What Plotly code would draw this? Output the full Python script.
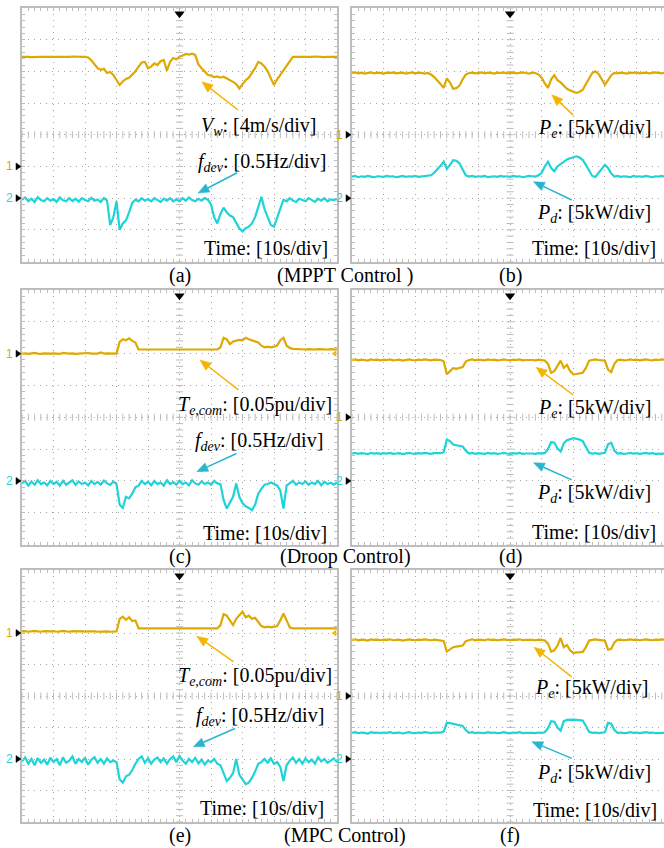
import math
import plotly.graph_objects as go

# ---------------- data (values in scope divisions) ----------------
T = [round(i * 0.1, 1) for i in range(101)]  # time, divisions (10 s/div)

vw_a = [2.46, 2.47, 2.46, 2.45, 2.46, 2.47, 2.46, 2.46, 2.45, 2.46,
        2.46, 2.47, 2.46, 2.46, 2.45, 2.46, 2.47, 2.46, 2.46, 2.46,
        2.46, 2.44, 2.35, 2.22, 2.10, 2.05, 2.08, 1.95, 1.98, 1.89,
        1.75, 1.57, 1.68, 1.76, 1.80, 1.89, 2.00, 2.15, 2.28, 2.30,
        2.10, 2.15, 2.25, 2.20, 2.32, 2.36, 2.02, 2.30, 2.42, 2.38,
        2.46, 2.50, 2.55, 2.53, 2.56, 2.52, 2.22, 2.10, 2.00, 1.89,
        1.86, 1.82, 1.84, 1.80, 1.83, 1.78, 1.74, 1.67, 1.60, 1.46,
        1.60, 1.72, 1.80, 1.95, 2.10, 2.30, 2.25, 2.15, 2.00, 1.78,
        1.57, 1.75, 1.90, 2.05, 2.20, 2.35, 2.46, 2.46, 2.47, 2.46,
        2.46, 2.45, 2.46, 2.47, 2.46, 2.46, 2.45, 2.46, 2.47, 2.46, 2.46]
fdev_a = [-2.05, -1.98, -2.10, -2.02, -2.12, -1.97, -2.06, -2.10, -2.00, -2.08,
          -2.03, -2.12, -1.98, -2.07, -2.10, -2.00, -2.09, -2.02, -2.11, -2.00,
          -2.06, -2.10, -1.99, -2.08, -2.04, -2.12, -2.00, -2.08, -2.85, -2.60,
          -2.10, -3.00, -2.80, -2.70, -2.45, -2.15, -2.05, -2.10, -2.00, -2.08,
          -2.03, -2.10, -2.00, -2.07, -2.12, -2.02, -2.08, -2.00, -2.10, -2.04,
          -2.10, -2.00, -2.08, -1.98, -2.06, -2.10, -2.02, -2.08, -2.00, -2.05,
          -2.20, -2.60, -2.80, -2.50, -2.30, -2.45, -2.55, -2.60, -2.80, -2.95,
          -3.05, -2.95, -2.90, -2.80, -2.60, -2.30, -1.96, -2.35, -2.60, -2.85,
          -2.90, -2.60, -2.30, -2.05, -2.10, -2.00, -2.08, -2.12, -2.02, -2.06,
          -2.10, -2.00, -2.07, -2.12, -2.02, -2.08, -2.00, -2.10, -2.04, -2.06, -2.02]
pe_b = [1.95, 1.97, 1.94, 1.96, 1.93, 1.95, 1.97, 1.94, 1.96, 1.95,
        1.93, 1.96, 1.95, 1.97, 1.94, 1.95, 1.96, 1.93, 1.95, 1.97,
        1.94, 1.96, 1.95, 1.93, 1.95, 1.90, 1.82, 1.72, 1.60, 1.48,
        1.78, 1.65, 1.45, 1.47, 1.55, 1.75, 1.90, 1.95, 1.96, 1.94,
        1.95, 1.97, 1.94, 1.96, 1.95, 1.93, 1.96, 1.95, 1.97, 1.94,
        1.95, 1.96, 1.94, 1.95, 1.97, 1.95, 1.93, 1.96, 1.95, 1.90,
        1.80, 1.62, 1.48, 1.75, 1.88, 1.72, 1.65, 1.55, 1.45, 1.40,
        1.35, 1.32, 1.36, 1.42, 1.60, 1.80, 1.95, 2.00, 1.92, 1.75,
        1.58, 1.72, 1.88, 1.95, 1.94, 1.96, 1.95, 1.93, 1.96, 1.95,
        1.97, 1.94, 1.95, 1.96, 1.94, 1.95, 1.97, 1.95, 1.94, 1.96, 1.95]
pd_b = [-1.32, -1.30, -1.34, -1.31, -1.33, -1.30, -1.32, -1.34, -1.31, -1.32,
        -1.33, -1.30, -1.32, -1.31, -1.34, -1.32, -1.30, -1.33, -1.31, -1.32,
        -1.30, -1.33, -1.32, -1.31, -1.30, -1.28, -1.20, -1.10, -0.98, -0.85,
        -1.08, -0.95, -0.80, -0.82, -0.90, -1.10, -1.28, -1.32, -1.30, -1.33,
        -1.31, -1.32, -1.30, -1.34, -1.32, -1.31, -1.33, -1.30, -1.32, -1.31,
        -1.33, -1.30, -1.32, -1.31, -1.34, -1.32, -1.30, -1.31, -1.32, -1.28,
        -1.20, -1.00, -0.85, -1.05, -1.15, -1.00, -0.92, -0.85, -0.78, -0.74,
        -0.70, -0.68, -0.72, -0.80, -0.95, -1.15, -1.30, -1.33, -1.20, -1.05,
        -0.95, -1.05, -1.22, -1.32, -1.30, -1.33, -1.31, -1.32, -1.34, -1.30,
        -1.32, -1.31, -1.33, -1.30, -1.32, -1.34, -1.31, -1.32, -1.30, -1.33, -1.32]
te_c = [2.00, 2.01, 1.99, 2.00, 2.02, 2.00, 1.99, 2.01, 2.00, 2.00,
        2.01, 2.00, 1.99, 2.02, 2.00, 2.00, 2.01, 1.99, 2.00, 2.01,
        2.00, 2.02, 2.00, 1.99, 2.00, 2.04, 2.00, 2.01, 2.00, 1.99,
        2.00, 2.37, 2.45, 2.42, 2.48, 2.40, 2.35, 2.13, 2.13, 2.13,
        2.13, 2.13, 2.13, 2.13, 2.13, 2.13, 2.13, 2.13, 2.13, 2.13,
        2.13, 2.13, 2.13, 2.13, 2.13, 2.13, 2.13, 2.13, 2.13, 2.13,
        2.13, 2.13, 2.13, 2.20, 2.50, 2.45, 2.30, 2.38, 2.40, 2.43,
        2.42, 2.50, 2.45, 2.42, 2.38, 2.35, 2.25, 2.20, 2.22, 2.20,
        2.22, 2.25, 2.42, 2.50, 2.25, 2.18, 2.15, 2.14, 2.13, 2.14,
        2.13, 2.14, 2.13, 2.13, 2.14, 2.13, 2.12, 2.13, 2.14, 2.13, 2.13]
fdev_c = [-2.08, -2.00, -2.15, -2.02, -2.12, -1.98, -2.10, -2.05, -2.14, -2.00,
          -2.10, -2.03, -2.15, -2.00, -2.12, -2.05, -1.98, -2.13, -2.02, -2.10,
          -2.05, -2.14, -2.00, -2.10, -2.03, -2.12, -1.99, -2.08, -2.13, -2.02,
          -2.10, -2.75, -2.85, -2.50, -2.55, -2.40, -2.20, -2.15, -2.00, -2.10,
          -2.03, -2.14, -2.00, -2.10, -2.05, -2.15, -1.98, -2.10, -2.04, -2.12,
          -2.00, -2.10, -2.05, -2.14, -1.98, -2.08, -2.12, -2.02, -2.10, -2.05,
          -2.12, -2.00, -2.08, -2.10, -2.60, -2.87, -2.70, -2.50, -2.08, -2.50,
          -2.70, -2.80, -2.85, -2.92, -2.75, -2.40, -2.25, -2.12, -2.10, -2.05,
          -2.10, -2.15, -2.30, -2.87, -2.15, -2.08, -2.00, -2.12, -2.05, -2.10,
          -2.02, -2.12, -2.05, -2.10, -2.00, -2.14, -2.03, -2.10, -2.06, -2.12, -2.04]
pe_d = [1.80, 1.82, 1.79, 1.81, 1.80, 1.78, 1.82, 1.80, 1.81, 1.79,
        1.81, 1.80, 1.82, 1.79, 1.80, 1.81, 1.78, 1.80, 1.82, 1.80,
        1.79, 1.81, 1.80, 1.82, 1.80, 1.79, 1.81, 1.80, 1.80, 1.76,
        1.35, 1.45, 1.54, 1.52, 1.56, 1.58, 1.75, 1.80, 1.82, 1.79,
        1.81, 1.80, 1.79, 1.82, 1.80, 1.81, 1.79, 1.80, 1.82, 1.80,
        1.79, 1.81, 1.80, 1.82, 1.79, 1.80, 1.81, 1.80, 1.79, 1.81,
        1.80, 1.78, 1.68, 1.40, 1.45, 1.60, 1.78, 1.55, 1.65, 1.45,
        1.35, 1.36, 1.37, 1.40, 1.55, 1.78, 1.80, 1.82, 1.80, 1.79,
        1.78, 1.50, 1.42, 1.68, 1.80, 1.81, 1.79, 1.80, 1.82, 1.80,
        1.81, 1.79, 1.80, 1.82, 1.80, 1.79, 1.81, 1.80, 1.82, 1.80, 1.80]
pd_d = [-1.14, -1.12, -1.15, -1.13, -1.14, -1.16, -1.12, -1.14, -1.13, -1.15,
        -1.13, -1.14, -1.12, -1.15, -1.14, -1.13, -1.16, -1.14, -1.12, -1.14,
        -1.15, -1.13, -1.14, -1.12, -1.14, -1.15, -1.13, -1.14, -1.13, -1.10,
        -0.70, -0.75, -0.86, -0.88, -0.90, -0.92, -1.05, -1.14, -1.12, -1.15,
        -1.13, -1.14, -1.15, -1.12, -1.14, -1.13, -1.15, -1.14, -1.12, -1.14,
        -1.15, -1.13, -1.14, -1.12, -1.15, -1.14, -1.13, -1.14, -1.15, -1.13,
        -1.14, -1.12, -1.00, -0.78, -0.80, -0.98, -1.08, -0.82, -0.72, -0.68,
        -0.66, -0.68, -0.70, -0.75, -0.95, -1.12, -1.14, -1.13, -1.15, -1.14,
        -1.12, -0.85, -0.80, -1.05, -1.14, -1.13, -1.15, -1.14, -1.12, -1.14,
        -1.13, -1.15, -1.14, -1.12, -1.14, -1.13, -1.15, -1.14, -1.13, -1.14, -1.14]
te_e = [2.05, 2.06, 2.04, 2.05, 2.07, 2.05, 2.04, 2.06, 2.05, 2.05,
        2.06, 2.04, 2.05, 2.07, 2.05, 2.04, 2.06, 2.05, 2.05, 2.06,
        2.04, 2.05, 2.06, 2.05, 2.04, 2.05, 2.06, 2.05, 2.04, 2.05,
        2.05, 2.45, 2.52, 2.42, 2.50, 2.38, 2.40, 2.15, 2.15, 2.15,
        2.15, 2.15, 2.15, 2.15, 2.15, 2.15, 2.15, 2.15, 2.15, 2.15,
        2.15, 2.15, 2.15, 2.15, 2.15, 2.15, 2.15, 2.15, 2.15, 2.15,
        2.15, 2.15, 2.15, 2.25, 2.60, 2.55, 2.38, 2.25, 2.45, 2.55,
        2.68, 2.50, 2.55, 2.45, 2.48, 2.35, 2.22, 2.18, 2.20, 2.18,
        2.20, 2.22, 2.40, 2.62, 2.40, 2.18, 2.15, 2.16, 2.15, 2.15,
        2.15, 2.16, 2.15, 2.15, 2.14, 2.15, 2.16, 2.15, 2.15, 2.15, 2.15]
fdev_e = [-2.07, -1.95, -2.15, -2.00, -2.20, -1.97, -2.12, -2.02, -2.18, -1.96,
          -2.10, -2.00, -2.20, -1.95, -2.12, -2.05, -1.92, -2.15, -2.00, -2.10,
          -1.96, -2.18, -2.02, -1.94, -2.12, -2.00, -2.15, -1.98, -2.10, -2.05,
          -2.10, -2.65, -2.75, -2.55, -2.50, -2.35, -2.15, -2.00, -1.92, -2.12,
          -1.98, -2.15, -2.02, -1.95, -2.10, -1.98, -2.15, -2.00, -1.92, -2.10,
          -1.90, -2.05, -2.15, -2.00, -2.10, -1.96, -2.14, -2.02, -2.18, -2.05,
          -2.10, -2.00, -2.15, -2.20, -2.45, -2.70, -2.60, -2.45, -2.00, -2.50,
          -2.65, -2.80, -2.75, -2.60, -2.40, -2.15, -2.10, -2.00, -2.12, -1.98,
          -2.15, -2.10, -2.25, -2.70, -2.20, -2.05, -1.95, -2.12, -2.00, -2.15,
          -1.98, -2.10, -2.02, -2.15, -1.95, -2.08, -2.00, -2.12, -2.05, -1.98, -2.10]
pe_f = [1.78, 1.80, 1.77, 1.79, 1.78, 1.76, 1.80, 1.78, 1.79, 1.77,
        1.79, 1.78, 1.80, 1.77, 1.78, 1.79, 1.76, 1.78, 1.80, 1.78,
        1.77, 1.79, 1.78, 1.80, 1.78, 1.77, 1.79, 1.78, 1.78, 1.75,
        1.41, 1.48, 1.55, 1.57, 1.58, 1.60, 1.74, 1.78, 1.80, 1.77,
        1.79, 1.78, 1.77, 1.80, 1.78, 1.79, 1.77, 1.78, 1.80, 1.78,
        1.77, 1.79, 1.78, 1.80, 1.77, 1.78, 1.79, 1.78, 1.77, 1.79,
        1.78, 1.76, 1.66, 1.41, 1.45, 1.60, 1.84, 1.55, 1.62, 1.45,
        1.37, 1.38, 1.38, 1.40, 1.55, 1.76, 1.78, 1.80, 1.78, 1.77,
        1.76, 1.47, 1.50, 1.70, 1.78, 1.79, 1.77, 1.78, 1.80, 1.78,
        1.79, 1.77, 1.78, 1.80, 1.78, 1.77, 1.79, 1.78, 1.80, 1.78, 1.78]
pd_f = [-1.17, -1.15, -1.18, -1.16, -1.17, -1.19, -1.15, -1.17, -1.16, -1.18,
        -1.16, -1.17, -1.15, -1.18, -1.17, -1.16, -1.19, -1.17, -1.15, -1.17,
        -1.18, -1.16, -1.17, -1.15, -1.17, -1.18, -1.16, -1.17, -1.16, -1.13,
        -0.85, -0.86, -0.88, -0.90, -0.93, -0.95, -1.08, -1.17, -1.15, -1.18,
        -1.16, -1.17, -1.18, -1.15, -1.17, -1.16, -1.18, -1.17, -1.15, -1.17,
        -1.18, -1.16, -1.17, -1.15, -1.18, -1.17, -1.16, -1.17, -1.18, -1.16,
        -1.17, -1.15, -1.02, -0.80, -0.82, -1.00, -1.10, -0.80, -0.76, -0.75,
        -0.75, -0.76, -0.77, -0.78, -0.95, -1.14, -1.17, -1.16, -1.18, -1.17,
        -1.15, -0.85, -0.88, -1.08, -1.17, -1.16, -1.18, -1.17, -1.15, -1.17,
        -1.16, -1.18, -1.17, -1.15, -1.17, -1.16, -1.18, -1.17, -1.16, -1.17, -1.17]

panel_letters = ["(a)", "(b)", "(c)", "(d)", "(e)", "(f)"]
row_titles = ["(MPPT Control )", "(Droop Control)", "(MPC Control)"]
label_vw = "<i>V</i><sub><i>w</i></sub>: [4m/s/div]"
label_fdev = "<i>f</i><sub><i>dev</i></sub>: [0.5Hz/div]"
label_te = "<i>T</i><sub><i>e,com</i></sub>: [0.05pu/div]"
label_pe = "<i>P</i><sub><i>e</i></sub>: [5kW/div]"
label_pd = "<i>P</i><sub><i>d</i></sub>: [5kW/div]"
label_time = "Time: [10s/div]"

# ---------------- styling ----------------
W, H = 664, 848
GOLD = "#DEA900"
CYAN = "#1FD3D8"
ARROW_GOLD = "#F4B400"
ARROW_CYAN = "#27B6CE"
BORDER = "#BDBDBD"
GRID = "#A4A4A4"
CROSS = "#BBBBBB"
FONT = "Liberation Serif"
FS = 20

panels = [
    dict(box=(22, 337, 8, 261.5), xr=10, s1=vw_a, s2=fdev_a, ch=(-1, -2), full=True,
         l1=label_vw, t1=(7.51, 0.25), a1=((6.86, 0.78), (5.71, 1.67)),
         l2=label_fdev, t2=(7.63, -0.89), a2=((6.83, -1.20), (5.59, -1.84)), tt=(7.73, -3.57)),
    dict(box=(352, 664, 8, 261.5), xr=9.87, s1=pe_b, s2=pd_b, ch=(0, -2), full=False,
         l1=label_pe, t1=(7.66, 0.21), a1=((7.00, 0.62), (6.32, 1.26)),
         l2=label_pd, t2=(7.66, -2.47), a2=((6.95, -2.06), (5.74, -1.48)), tt=(7.66, -3.57)),
    dict(box=(22, 337, 290, 544.5), xr=10, s1=te_c, s2=fdev_c, ch=(2, -2), full=True,
         l1=label_te, t1=(7.40, 0.38), a1=((6.87, 0.86), (5.65, 1.80)),
         l2=label_fdev, t2=(7.52, -0.77), a2=((6.81, -1.14), (5.55, -1.71)), tt=(7.71, -3.65)),
    dict(box=(352, 664, 290, 544.5), xr=9.87, s1=pe_d, s2=pd_d, ch=(0, -2), full=False,
         l1=label_pe, t1=(7.66, 0.28), a1=((7.00, 0.70), (5.82, 1.57)),
         l2=label_pd, t2=(7.66, -2.39), a2=((6.95, -1.97), (5.74, -1.43)), tt=(7.66, -3.60)),
    dict(box=(22, 337, 570, 822), xr=10, s1=te_e, s2=fdev_e, ch=(2, -2), full=True,
         l1=label_te, t1=(7.40, 0.61), a1=((6.71, 1.09), (5.55, 1.90)),
         l2=label_fdev, t2=(7.56, -0.66), a2=((6.76, -1.03), (5.44, -1.61)), tt=(7.63, -3.57)),
    dict(box=(352, 664, 570, 822), xr=9.87, s1=pe_f, s2=pd_f, ch=(0, -2), full=False,
         l1=label_pe, t1=(7.58, 0.24), a1=((6.95, 0.61), (5.76, 1.55)),
         l2=label_pd, t2=(7.64, -2.46), a2=((6.95, -1.98), (5.69, -1.45)), tt=(7.69, -3.62)),
]

fig = go.Figure()
layout = {}
annotations = []
shapes = []

minor_x = [round(i * 0.2, 1) for i in range(51)]
minor_y = [round(-4 + i * 0.2, 1) for i in range(41)]

for i, p in enumerate(panels, start=1):
    sfx = "" if i == 1 else str(i)
    xa, ya = "x" + sfx, "y" + sfx
    L, R, Tp, B = p["box"]
    sx = (R - L) / p["xr"]      # px per x-div
    sy = (B - Tp) / 8.0         # px per y-div
    common = dict(showticklabels=False, showline=True, linecolor=BORDER, linewidth=1.5,
                  ticks="inside", ticklen=3, tickcolor=BORDER, tickwidth=1,
                  showgrid=True, gridcolor=GRID, griddash="1px,5px", gridwidth=1,
                  zeroline=False, fixedrange=True, tick0=0, dtick=1,
                  minor=dict(dtick=0.2, tick0=0, ticks="inside", ticklen=3,
                             tickcolor=BORDER, tickwidth=1, showgrid=False))
    layout["xaxis" + sfx] = dict(domain=[L / W, R / W], range=[0, p["xr"]], anchor=ya,
                                 mirror="allticks", **common)
    layout["yaxis" + sfx] = dict(domain=[1 - B / H, 1 - Tp / H], range=[-4, 4], anchor=xa,
                                 mirror="allticks" if p["full"] else False, **common)

    # center cross tick marks
    fig.add_trace(go.Scatter(x=[5] * len(minor_y), y=minor_y, mode="markers", xaxis=xa, yaxis=ya,
                             marker=dict(symbol="line-ew", size=5, line=dict(color=CROSS, width=1)),
                             hoverinfo="skip", showlegend=False))
    fig.add_trace(go.Scatter(x=minor_x, y=[0] * len(minor_x), mode="markers", xaxis=xa, yaxis=ya,
                             marker=dict(symbol="line-ns", size=5, line=dict(color=CROSS, width=1)),
                             hoverinfo="skip", showlegend=False))

    # waveforms
    fig.add_trace(go.Scatter(x=T, y=p["s1"], mode="lines", xaxis=xa, yaxis=ya,
                             line=dict(color=GOLD, width=2.2), showlegend=False))
    fig.add_trace(go.Scatter(x=T, y=p["s2"], mode="lines", xaxis=xa, yaxis=ya,
                             line=dict(color=CYAN, width=2.2), showlegend=False))

    # trigger marker at top
    fig.add_trace(go.Scatter(x=[5], y=[3.82], mode="markers", xaxis=xa, yaxis=ya,
                             marker=dict(symbol="triangle-down", size=9, color="black"),
                             hoverinfo="skip", showlegend=False, cliponaxis=False))
    if p["full"] and p["ch"][0] == 2:
        fig.add_trace(go.Scatter(x=[9.93], y=[2], mode="markers", xaxis=xa, yaxis=ya,
                                 marker=dict(symbol="triangle-left", size=6, color=ARROW_GOLD),
                                 hoverinfo="skip", showlegend=False, cliponaxis=False))

    # channel ground markers (label + black triangle left of the frame)
    for lev, txt, col in ((p["ch"][0], "1", GOLD), (p["ch"][1], "2", CYAN)):
        py = Tp + (4 - lev) / 8 * (B - Tp)
        annotations.append(dict(x=(L - 7) / W, y=1 - py / H, xref="paper", yref="paper", text=txt,
                                showarrow=False, xanchor="right", yanchor="middle",
                                font=dict(family="Arial", size=12, color=col)))
        xt, xb = (L - 1) / W, (L - 6) / W
        yt, yb0, yb1 = 1 - py / H, 1 - (py - 3.5) / H, 1 - (py + 3.5) / H
        shapes.append(dict(type="path", xref="paper", yref="paper",
                           path=f"M {xb},{yb0} L {xt},{yt} L {xb},{yb1} Z",
                           fillcolor="black", line=dict(color="black", width=0.5)))

    # labels
    for lab, pos in ((p["l1"], p["t1"]), (p["l2"], p["t2"]), (label_time, p["tt"])):
        annotations.append(dict(x=pos[0], y=pos[1], xref=xa, yref=ya, text=lab, showarrow=False,
                                xanchor="center", yanchor="middle",
                                font=dict(family=FONT, size=FS, color="black")))
    # arrows (shaft + filled head), drawn in data units of the panel
    for (tail, head), col in ((p["a1"], ARROW_GOLD), (p["a2"], ARROW_CYAN)):
        dxp = (head[0] - tail[0]) * sx
        dyp = (head[1] - tail[1]) * sy
        ln = math.hypot(dxp, dyp)
        ux, uy = dxp / ln, dyp / ln
        hl, hw = 11.0, 4.5
        bx, by = -ux * hl, -uy * hl
        base = (head[0] + bx / sx, head[1] + by / sy)
        p1 = (base[0] + (-uy * hw) / sx, base[1] + (ux * hw) / sy)
        p2 = (base[0] - (-uy * hw) / sx, base[1] - (ux * hw) / sy)
        shapes.append(dict(type="line", xref=xa, yref=ya, x0=tail[0], y0=tail[1],
                           x1=base[0], y1=base[1], line=dict(color=col, width=1.5)))
        shapes.append(dict(type="path", xref=xa, yref=ya,
                           path=f"M {head[0]},{head[1]} L {p1[0]},{p1[1]} L {p2[0]},{p2[1]} Z",
                           fillcolor=col, line=dict(color=col, width=0.5)))

# captions
cap_y = [275, 556, 835]
for r in range(3):
    y = 1 - cap_y[r] / H
    for xpx, txt in ((180, panel_letters[2 * r]), (510, panel_letters[2 * r + 1]), (345, row_titles[r])):
        annotations.append(dict(x=xpx / W, y=y, xref="paper", yref="paper", text=txt,
                                showarrow=False, xanchor="center", yanchor="middle",
                                font=dict(family=FONT, size=FS, color="black")))

fig.update_layout(width=W, height=H, margin=dict(l=0, r=0, t=0, b=0),
                  paper_bgcolor="white", plot_bgcolor="white", showlegend=False,
                  annotations=annotations, shapes=shapes, **layout)
fig.write_html("out.html")
